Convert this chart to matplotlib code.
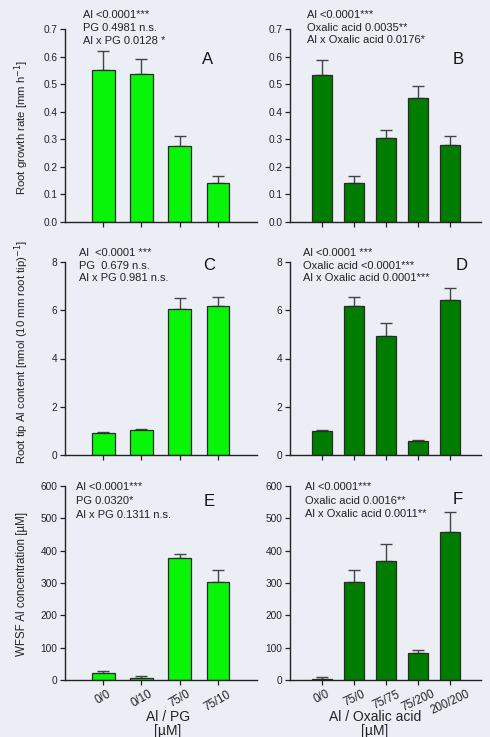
import matplotlib
matplotlib.use("Agg")
import matplotlib.pyplot as plt
import numpy as np

plt.rcParams['font.family'] = ['Liberation Sans', 'DejaVu Sans']

# ---------------- data ----------------
pg_labels = ["0/0", "0/10", "75/0", "75/10"]
ox_labels = ["0/0", "75/0", "75/75", "75/200", "200/200"]

A_vals = [0.553, 0.535, 0.277, 0.140]
A_err = [0.068, 0.055, 0.034, 0.027]
B_vals = [0.533, 0.141, 0.303, 0.449, 0.279]
B_err = [0.056, 0.026, 0.030, 0.043, 0.033]

C_vals = [0.90, 1.02, 6.07, 6.18]
C_err = [0.04, 0.04, 0.44, 0.37]
D_vals = [1.00, 6.17, 4.94, 0.57, 6.42]
D_err = [0.05, 0.38, 0.54, 0.04, 0.51]

E_vals = [22, 6, 377, 304]
E_err = [6, 5, 13, 35]
F_vals = [4, 304, 367, 84, 459]
F_err = [6, 35, 55, 8, 60]

stats_A = ["Al <0.0001***", "PG 0.4981 n.s.", "Al x PG 0.0128 *"]
stats_B = ["Al <0.0001***", "Oxalic acid 0.0035**", "Al x Oxalic acid 0.0176*"]
stats_C = ["Al  <0.0001 ***", "PG  0.679 n.s.", "Al x PG 0.981 n.s."]
stats_D = ["Al <0.0001 ***", "Oxalic acid <0.0001***", "Al x Oxalic acid 0.0001***"]
stats_E = ["Al <0.0001***", "PG 0.0320*", "Al x PG 0.1311 n.s."]
stats_F = ["Al <0.0001***", "Oxalic acid 0.0016**", "Al x Oxalic acid 0.0011**"]

# ---------------- style ----------------
W, H = 490, 737
BG = '#ebeff5'
LIGHT = '#08f408'
DARK = '#007d00'
EDGE = '#2a2a2a'
AXC = '#222222'

fig = plt.figure(figsize=(W / 100, H / 100), dpi=100, facecolor=BG)


def px_axes(left, right, top, bottom):
    return fig.add_axes([left / W, 1 - bottom / H, (right - left) / W, (bottom - top) / H])


def style(ax, ylim, yticks, yfmt, xlim, n):
    ax.set_facecolor('none')
    ax.set_ylim(*ylim)
    ax.set_xlim(*xlim)
    ax.set_yticks(yticks)
    ax.set_yticklabels([yfmt.format(t) for t in yticks], fontsize=7.3, color='#222222')
    ax.set_xticks(np.arange(n))
    for s in ['top', 'right']:
        ax.spines[s].set_visible(False)
    for s in ['left', 'bottom']:
        ax.spines[s].set_color(AXC)
        ax.spines[s].set_linewidth(1.0)
    ax.spines['left'].set_bounds(ylim[0], ylim[1])
    ax.tick_params(axis='both', direction='out', length=3.5, width=0.9, color=AXC, pad=2)


def bars(ax, vals, err, color):
    x = np.arange(len(vals))
    ax.bar(x, vals, width=0.6, color=color, edgecolor=EDGE, linewidth=0.9, zorder=2)
    ax.errorbar(x, vals, yerr=[np.zeros(len(err)), err], fmt='none', ecolor='#444444',
                elinewidth=1.0, capsize=4, capthick=1.0, zorder=1)


def px_text(x, y, s, **kw):
    fig.text(x / W, 1 - y / H, s, **kw)


def stats(x, ys, lines):
    for y, s in zip(ys, lines):
        px_text(x, y, s, fontsize=8, ha='left', va='center', color='#222222')


# ---------------- panels ----------------
axA = px_axes(65, 257, 29, 222)
bars(axA, A_vals, A_err, LIGHT)
style(axA, (0, 0.7), np.arange(0, 0.71, 0.1), "{:.1f}", (-1.0, 4.02), 4)
axA.set_xticklabels([])

axB = px_axes(290, 481, 29, 222)
bars(axB, B_vals, B_err, DARK)
style(axB, (0, 0.7), np.arange(0, 0.71, 0.1), "{:.1f}", (-1.0, 4.97), 5)
axB.set_xticklabels([])

axC = px_axes(65, 257, 262, 455)
bars(axC, C_vals, C_err, LIGHT)
style(axC, (0, 8), [0, 2, 4, 6, 8], "{:d}", (-1.0, 4.02), 4)
axC.set_xticklabels([])

axD = px_axes(290, 481, 262, 455)
bars(axD, D_vals, D_err, DARK)
style(axD, (0, 8), [0, 2, 4, 6, 8], "{:d}", (-1.0, 4.97), 5)
axD.set_xticklabels([])

axE = px_axes(65, 257, 486, 680)
bars(axE, E_vals, E_err, LIGHT)
style(axE, (0, 600), list(range(0, 601, 100)), "{:d}", (-1.0, 4.02), 4)
axE.set_xticklabels(pg_labels, rotation=30, fontsize=8.3, ha='center', va='top',
                    color='#222222')
axE.tick_params(axis='x', pad=2.5)

axF = px_axes(290, 481, 486, 680)
bars(axF, F_vals, F_err, DARK)
style(axF, (0, 600), list(range(0, 601, 100)), "{:d}", (-1.0, 4.97), 5)
axF.set_xticklabels(ox_labels, rotation=25, fontsize=8.3, ha='center', va='top',
                    color='#222222')
axF.tick_params(axis='x', pad=2.5)

# ---------------- texts ----------------
stats(83, [15, 28, 41], stats_A)
stats(307, [15, 28, 40], stats_B)
stats(79, [253, 266, 278], stats_C)
stats(303, [253, 266, 278], stats_D)
stats(76, [487, 501, 515], stats_E)
stats(305, [487, 501, 514], stats_F)

for x, y, s in [(208, 60, 'A'), (458, 60, 'B'), (209, 265, 'C'),
                (462, 265, 'D'), (209, 501, 'E'), (458, 499, 'F')]:
    px_text(x, y, s, fontsize=12, ha='center', va='center', color='#111111')

px_text(22, 127, "Root growth rate [mm h$^{-1}$]", fontsize=8.2, rotation=90,
        ha='center', va='center', color='#222222')
px_text(22, 352, "Root tip Al content [nmol (10 mm root tip)$^{-1}$]", fontsize=8.2,
        rotation=90, ha='center', va='center', color='#222222')
px_text(22, 584, "WFSF Al concentration [\u00b5M]", fontsize=8.3, rotation=90,
        ha='center', va='center', color='#222222')

px_text(168, 717, "Al / PG", fontsize=10, ha='center', va='center', color='#222222')
px_text(168, 731, "[\u00b5M]", fontsize=10, ha='center', va='center', color='#222222')
px_text(375, 717, "Al / Oxalic acid", fontsize=10, ha='center', va='center', color='#222222')
px_text(375, 731, "[\u00b5M]", fontsize=10, ha='center', va='center', color='#222222')

fig.savefig("out.png", dpi=100, facecolor=BG)
